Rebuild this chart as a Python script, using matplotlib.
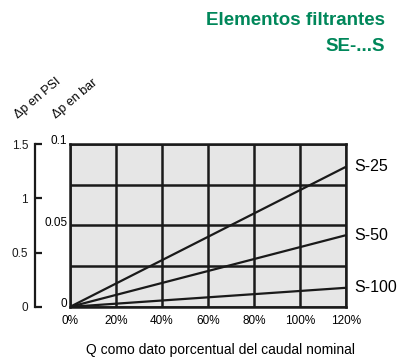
import matplotlib.pyplot as plt
import matplotlib.transforms as mtrans

plt.rcParams['font.family'] = ['Liberation Sans', 'DejaVu Sans']

q_pct = [0, 120]
series = {
    'S-25': [0, 0.086],
    'S-50': [0, 0.044],
    'S-100': [0, 0.0117],
}
x_ticks = [0, 20, 40, 60, 80, 100, 120]
x_labels = ['0%', '20%', '40%', '60%', '80%', '100%', '120%']
bar_ticks = [0, 0.025, 0.05, 0.075, 0.1]
bar_labels = ['0', '', '0.05', '', '0.1']
psi_ticks = [0, 0.5, 1, 1.5]
psi_labels = ['0', '0.5', '1', '1.5']

green = '#00875a'
ink = '#1a1a1a'

fig = plt.figure(figsize=(3.98, 3.61), dpi=100)
ax = fig.add_axes([0.176, 0.15, 0.693, 0.451])
ax.set_facecolor('#e6e6e6')

for name, vals in series.items():
    ax.plot(q_pct, vals, color=ink, lw=1.6, solid_capstyle='butt', zorder=3)
    ax.text(1.03, vals[-1] / 0.1, name, transform=ax.transAxes,
            ha='left', va='center', fontsize=11.5)

ax.set_xlim(0, 120)
ax.set_ylim(0, 0.1)
ax.set_xticks(x_ticks)
ax.set_xticklabels(x_labels, fontsize=8.5)
ax.set_yticks(bar_ticks)
ax.set_yticklabels(bar_labels, fontsize=8.5)
ax.tick_params(axis='x', length=0, pad=6)
ax.tick_params(axis='y', length=0, pad=2)
# lift the bar labels a little, as in the original
up = mtrans.ScaledTranslation(0, 3 / 72, fig.dpi_scale_trans)
for lab in ax.get_yticklabels():
    lab.set_transform(lab.get_transform() + up)
ax.grid(True, color=ink, lw=1.8)
ax.set_axisbelow(True)
for s in ax.spines.values():
    s.set_color(ink)
    s.set_linewidth(1.8)

# second scale in PSI
ax2 = ax.twinx()
ax2.set_ylim(0, 1.5)
ax2.yaxis.tick_left()
for k in ['right', 'top', 'bottom']:
    ax2.spines[k].set_visible(False)
ax2.spines['left'].set_position(('axes', -0.127))
ax2.spines['left'].set_linewidth(1.6)
ax2.spines['left'].set_color(ink)
ax2.set_yticks(psi_ticks)
ax2.set_yticklabels(psi_labels, fontsize=8.5)
ax2.tick_params(axis='y', direction='in', length=5, width=1.6, pad=5,
                colors=ink)

fig.text(0.096, 0.728, '\u0394p en PSI', rotation=40, ha='center', va='center',
         fontsize=9)
fig.text(0.188, 0.726, '\u0394p en bar', rotation=40, ha='center', va='center',
         fontsize=9)

fig.text(0.968, 0.942, 'Elementos filtrantes', color=green, fontsize=13.5,
         fontweight='bold', ha='right', va='center')
fig.text(0.968, 0.87, 'SE-...S', color=green, fontsize=13.5,
         fontweight='bold', ha='right', va='center')

fig.text(0.555, 0.03, 'Q como dato porcentual del caudal nominal',
         ha='center', va='center', fontsize=10)

fig.savefig('out.png', dpi=100)
